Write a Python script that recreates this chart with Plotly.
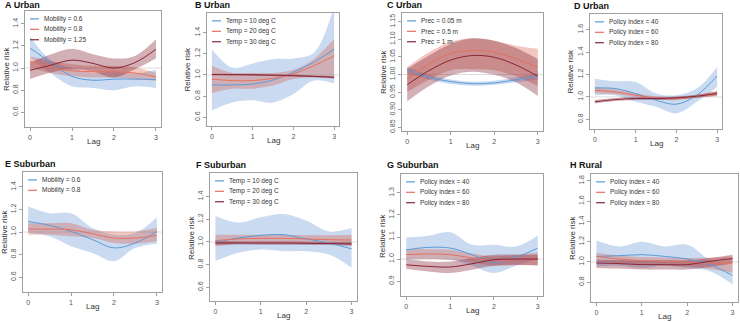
import plotly.graph_objects as go

W, H = 740, 322
LAG = [0, 0.5, 1, 1.5, 2, 2.5, 3]
X_TICKS = [0, 1, 2, 3]

TITLES = ["A Urban", "B Urban", "C Urban", "D Urban",
          "E Suburban", "F Suburban", "G Suburban", "H Rural"]

LAB_MOB3 = ["Mobility = 0.6", "Mobility = 0.8", "Mobility = 1.25"]
LAB_MOB2 = ["Mobility = 0.6", "Mobility = 0.8"]
LAB_TEMP = ["Temp = 10 deg C", "Temp = 20 deg C", "Temp = 30 deg C"]
LAB_PREC = ["Prec = 0.05 m", "Prec = 0.5 m", "Prec = 1 m"]
LAB_POL = ["Policy index = 40", "Policy index = 60", "Policy index = 80"]

# ---- Panel A ----
A_FIT = [[1.18, 1.05, 0.925, 0.89, 0.90, 0.90, 0.895],
         [1.06, 1.005, 0.975, 0.967, 0.967, 0.955, 0.92],
         [0.98, 1.027, 1.072, 1.042, 1.0, 1.05, 1.17]]
A_HI = [[1.285, 1.07, 1.0, 0.955, 0.97, 0.95, 0.985],
        [1.105, 1.065, 1.035, 1.02, 1.02, 1.005, 0.955],
        [1.05, 1.125, 1.175, 1.125, 1.087, 1.11, 1.26]]
A_LO = [[1.10, 0.95, 0.835, 0.82, 0.80, 0.835, 0.82],
        [1.005, 0.955, 0.925, 0.915, 0.915, 0.90, 0.885],
        [0.90, 0.96, 0.99, 0.967, 0.915, 0.99, 1.087]]

# ---- Panel B ----
B_FIT = [[0.906, 0.906, 0.915, 0.953, 1.025, 1.12, 1.245],
         [0.962, 0.947, 0.947, 0.969, 1.01, 1.088, 1.18],
         [1.005, 1.004, 1.002, 0.998, 0.994, 0.987, 0.978]]
B_HI = [[1.245, 1.07, 1.11, 1.15, 1.157, 1.21, 1.65],
        [1.088, 1.02, 1.02, 1.02, 1.05, 1.15, 1.34],
        [1.013, 1.012, 1.01, 1.006, 1.002, 0.996, 0.988]]
B_LO = [[0.664, 0.74, 0.76, 0.74, 0.82, 0.947, 0.92],
        [0.83, 0.87, 0.87, 0.90, 0.962, 0.978, 0.969],
        [0.997, 0.996, 0.994, 0.99, 0.986, 0.978, 0.968]]

# ---- Panel C ----
C_FIT = [[1.014, 0.992, 0.98, 0.974, 0.976, 0.985, 0.995],
         [0.988, 1.03, 1.06, 1.068, 1.063, 1.044, 1.021],
         [0.971, 1.011, 1.041, 1.054, 1.049, 1.027, 0.995]]
C_HI = [[1.022, 0.999, 0.986, 0.980, 0.982, 0.992, 1.005],
        [1.021, 1.063, 1.093, 1.103, 1.096, 1.082, 1.073],
        [1.016, 1.054, 1.087, 1.103, 1.096, 1.075, 1.044]]
C_LO = [[1.004, 0.985, 0.973, 0.968, 0.970, 0.978, 0.985],
        [0.95, 0.985, 1.012, 1.015, 1.012, 0.995, 0.967],
        [0.924, 0.967, 0.997, 1.008, 0.999, 0.978, 0.939]]

# ---- Panel D ----
D_FIT = [[1.08, 1.074, 1.03, 0.97, 0.935, 1.015, 1.187],
         [1.059, 1.044, 1.015, 0.991, 0.985, 1.006, 1.03],
         [0.956, 0.976, 0.985, 0.985, 0.991, 1.006, 1.03]]
D_HI = [[1.163, 1.14, 1.133, 1.03, 1.015, 1.074, 1.267],
        [1.085, 1.065, 1.032, 1.006, 1.0, 1.02, 1.055],
        [0.972, 0.99, 0.998, 0.998, 1.004, 1.02, 1.048]]
D_LO = [[1.015, 1.015, 0.956, 0.911, 0.852, 0.956, 1.089],
        [1.033, 1.023, 0.998, 0.976, 0.97, 0.992, 1.005],
        [0.94, 0.962, 0.972, 0.972, 0.978, 0.992, 1.012]]

# ---- Panel E ----
E_FIT = [[1.094, 1.059, 1.006, 0.933, 0.86, 0.903, 1.006],
         [1.026, 1.026, 1.02, 0.985, 0.947, 0.947, 0.97]]
E_HI = [[1.226, 1.167, 1.167, 1.035, 0.977, 0.991, 1.129],
        [1.079, 1.079, 1.079, 1.02, 1.006, 1.006, 1.035]]
E_LO = [[0.997, 0.962, 0.874, 0.815, 0.742, 0.86, 0.897],
        [0.977, 0.977, 0.962, 0.947, 0.903, 0.897, 0.918]]

# ---- Panel F ----
F_FIT = [[0.997, 1.035, 1.058, 1.064, 1.026, 0.991, 0.939],
         [1.012, 1.026, 1.032, 1.032, 1.026, 1.02, 1.017],
         [0.991, 0.991, 0.99, 0.99, 0.988, 0.986, 0.983]]
F_HI = [[1.23, 1.172, 1.218, 1.247, 1.189, 1.093, 1.122],
        [1.064, 1.064, 1.064, 1.064, 1.06, 1.06, 1.064],
        [1.008, 1.005, 1.004, 1.004, 1.002, 1.0, 1.0]]
F_LO = [[0.831, 0.904, 0.933, 0.919, 0.919, 0.889, 0.773],
        [0.962, 0.985, 0.991, 0.991, 0.991, 0.985, 0.968],
        [0.975, 0.977, 0.976, 0.976, 0.974, 0.972, 0.966]]

# ---- Panel G ----
G_FIT = [[1.042, 1.053, 1.05, 1.02, 0.985, 1.008, 1.05],
         [1.02, 1.023, 1.02, 1.005, 0.992, 0.997, 1.005],
         [0.974, 0.967, 0.964, 0.979, 0.997, 1.0, 1.0]]
G_HI = [[1.098, 1.106, 1.122, 1.065, 1.065, 1.057, 1.106],
        [1.045, 1.045, 1.042, 1.025, 1.012, 1.02, 1.03],
        [1.0, 0.989, 0.989, 1.005, 1.02, 1.02, 1.02]]
G_LO = [[0.997, 1.0, 0.997, 0.97, 0.937, 0.97, 1.0],
        [1.0, 1.0, 0.997, 0.985, 0.97, 0.972, 0.974],
        [0.955, 0.944, 0.937, 0.952, 0.97, 0.974, 0.97]]

# ---- Panel H ----
H_FIT = [[1.055, 1.062, 1.072, 1.055, 1.029, 0.974, 0.867],
         [1.055, 1.029, 1.013, 1.007, 0.997, 0.99, 0.98],
         [0.99, 0.984, 0.974, 0.974, 0.974, 1.007, 1.033]]
H_HI = [[1.211, 1.153, 1.2, 1.153, 1.169, 1.023, 0.964],
        [1.088, 1.065, 1.049, 1.044, 1.039, 1.045, 1.055],
        [1.023, 1.02, 1.016, 1.016, 1.016, 1.04, 1.072]]
H_LO = [[0.958, 0.964, 0.941, 0.964, 0.941, 0.909, 0.779],
        [1.007, 0.99, 0.974, 0.966, 0.958, 0.93, 0.893],
        [0.941, 0.935, 0.925, 0.925, 0.925, 0.95, 0.984]]

Y_TICKS = [[0.6, 0.8, 1.0, 1.2, 1.4],
           [0.6, 0.8, 1.0, 1.2, 1.4],
           [0.85, 0.90, 0.95, 1.00, 1.05, 1.10, 1.15],
           [0.8, 1.0, 1.2, 1.4, 1.6],
           [0.6, 0.8, 1.0, 1.2, 1.4],
           [0.6, 0.8, 1.0, 1.2, 1.4],
           [0.9, 1.0, 1.1, 1.2, 1.3],
           [0.8, 1.0, 1.2, 1.4, 1.6, 1.8]]
Y_FMT = [".1f", ".1f", ".2f", ".1f", ".1f", ".1f", ".1f", ".1f"]
Y_RANGE = [[0.465, 1.517], [0.515, 1.588], [0.839, 1.175], [0.711, 1.742],
           [0.467, 1.533], [0.478, 1.609], [0.832, 1.386], [0.604, 1.869]]

PANELS = [(A_FIT, A_HI, A_LO, LAB_MOB3), (B_FIT, B_HI, B_LO, LAB_TEMP),
          (C_FIT, C_HI, C_LO, LAB_PREC), (D_FIT, D_HI, D_LO, LAB_POL),
          (E_FIT, E_HI, E_LO, LAB_MOB2), (F_FIT, F_HI, F_LO, LAB_TEMP),
          (G_FIT, G_HI, G_LO, LAB_POL), (H_FIT, H_HI, H_LO, LAB_POL)]

# plot boxes in pixels: left, right, top, bottom
BOX = [(25, 161, 11, 128), (207, 339, 13, 127), (402, 543, 13, 132), (590, 722, 14, 130),
       (23, 162, 173, 294), (210, 357, 174, 303), (401, 543, 175, 298), (591, 738, 175, 304)]
TITLE_POS = [(3, 5), (193, 5), (385, 5), (572, 6), (3, 165), (194, 166), (385, 166), (568, 166)]

LINE_COL = ["#5b9bd5", "#e5705e", "#8b2435"]
BAND_COL = ["rgba(100,150,215,0.35)", "rgba(215,95,75,0.35)", "rgba(130,30,45,0.35)"]

FONT = "Liberation Sans, Arial, sans-serif"
AXC = "#a0a0a0"


def px(x):
    return x / W


def py(y):
    return 1 - y / H


fig = go.Figure()
shapes, annotations = [], []

for i, (fit, hi, lo, labels) in enumerate(PANELS):
    n = i + 1
    xa, ya = ("x" if n == 1 else f"x{n}"), ("y" if n == 1 else f"y{n}")
    # bands
    for k in range(len(fit)):
        fig.add_trace(go.Scatter(x=LAG, y=lo[k], xaxis=xa, yaxis=ya, mode="lines",
                                 line=dict(width=0, shape="spline", color=BAND_COL[k]),
                                 showlegend=False, hoverinfo="skip"))
        fig.add_trace(go.Scatter(x=LAG, y=hi[k], xaxis=xa, yaxis=ya, mode="lines",
                                 line=dict(width=0, shape="spline", color=BAND_COL[k]),
                                 fill="tonexty", fillcolor=BAND_COL[k],
                                 showlegend=False, hoverinfo="skip"))
    for k in range(len(fit)):
        fig.add_trace(go.Scatter(x=LAG, y=fit[k], xaxis=xa, yaxis=ya, mode="lines",
                                 line=dict(width=1, shape="spline", color=LINE_COL[k]),
                                 name=labels[k], showlegend=False))
    l, r, t, b = BOX[i]
    common = dict(showline=True, linecolor=AXC, linewidth=1, mirror=True,
                  ticks="outside", ticklen=3, tickcolor=AXC, tickwidth=1,
                  showgrid=False, zeroline=False,
                  tickfont=dict(size=7, color="#555", family=FONT))
    fig.layout[f"xaxis{'' if n == 1 else n}"] = dict(
        domain=[px(l), px(r)], anchor=ya, range=[-0.12, 3.12],
        tickvals=X_TICKS, **common)
    fig.layout[f"yaxis{'' if n == 1 else n}"] = dict(
        domain=[py(b), py(t)], anchor=xa, range=Y_RANGE[i],
        tickvals=Y_TICKS[i], tickformat=Y_FMT[i], tickangle=-90, **common)
    # reference line at 1
    shapes.append(dict(type="line", xref=f"{xa} domain", yref=ya, x0=0, x1=1, y0=1, y1=1,
                       line=dict(color="#dddddd", width=1), layer="below"))
    # title
    tx, ty = TITLE_POS[i]
    annotations.append(dict(text=f"<b>{TITLES[i]}</b>", x=px(tx), y=py(ty), xref="paper", yref="paper",
                            xanchor="left", yanchor="middle", showarrow=False,
                            font=dict(size=9, color="#111", family=FONT)))
    # axis titles
    annotations.append(dict(text="Relative risk", x=px(l - 19), y=py((t + b) / 2), xref="paper",
                            yref="paper", textangle=-90, showarrow=False, xanchor="center",
                            yanchor="middle", font=dict(size=8, color="#333", family=FONT)))
    annotations.append(dict(text="Lag", x=px((l + r) / 2), y=py(b + 14), xref="paper",
                            yref="paper", showarrow=False, xanchor="center", yanchor="middle",
                            font=dict(size=8, color="#333", family=FONT)))
    # legend
    for k, lab in enumerate(labels):
        ly = t + 8 + 10.5 * k
        shapes.append(dict(type="line", xref="paper", yref="paper",
                           x0=px(l + 5), x1=px(l + 14), y0=py(ly), y1=py(ly),
                           line=dict(color=LINE_COL[k], width=1.2)))
        annotations.append(dict(text=lab, x=px(l + 17), y=py(ly), xref="paper", yref="paper",
                                xanchor="left", yanchor="middle", showarrow=False,
                                font=dict(size=6.5, color="#333", family=FONT)))

fig.update_layout(width=W, height=H, margin=dict(l=0, r=0, t=0, b=0),
                  paper_bgcolor="white", plot_bgcolor="white",
                  shapes=shapes, annotations=annotations, showlegend=False,
                  font=dict(family=FONT))
fig.write_html("out.html", config={"displayModeBar": False},
               post_script="document.body.style.margin='0';document.body.style.overflow='hidden';")
